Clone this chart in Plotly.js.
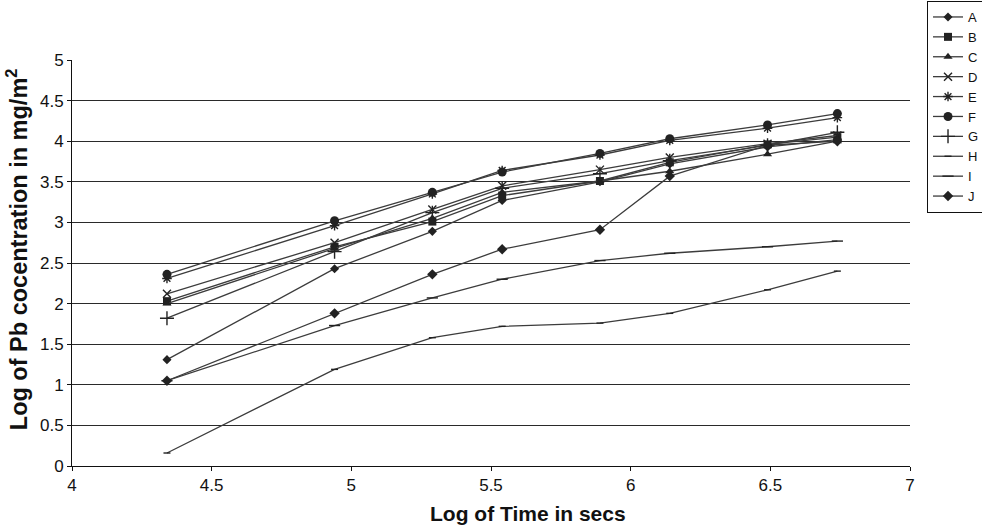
<!DOCTYPE html>
<html>
<head>
<meta charset="utf-8">
<script src="https://cdn.plot.ly/plotly-3.0.1.min.js"></script>
<style>
  html, body { margin: 0; padding: 0; background: #fff; }
  #chart { width: 982px; height: 532px; }
</style>
</head>
<body>
<div id="chart"></div>
<script>
// Log of elapsed time (s) at each sampling point
const logTime = [4.34, 4.94, 5.29, 5.54, 5.89, 6.14, 6.49, 6.74];

// Log of Pb concentration (mg/m²) for each sample series
const seriesNames = ["A", "B", "C", "D", "E", "F", "G", "H", "I", "J"];
const seriesA = [1.31, 2.43, 2.89, 3.27, 3.50, 3.72, 3.93, 4.02];
const seriesB = [2.03, 2.70, 3.01, 3.33, 3.51, 3.74, 3.96, 4.05];
const seriesC = [2.00, 2.68, 3.05, 3.37, 3.51, 3.63, 3.84, 4.00];
const seriesD = [2.12, 2.75, 3.16, 3.45, 3.65, 3.80, 3.97, 4.07];
const seriesE = [2.31, 2.96, 3.35, 3.64, 3.83, 4.01, 4.16, 4.29];
const seriesF = [2.36, 3.02, 3.37, 3.62, 3.85, 4.03, 4.20, 4.34];
const seriesG = [1.82, 2.64, 3.12, 3.42, 3.60, 3.76, 3.95, 4.11];
const seriesH = [0.16, 1.19, 1.58, 1.72, 1.76, 1.88, 2.17, 2.40];
const seriesI = [1.05, 1.73, 2.07, 2.30, 2.53, 2.62, 2.70, 2.77];
const seriesJ = [1.05, 1.88, 2.36, 2.67, 2.91, 3.57, 3.95, 4.00];

const yTickVals = [0, 0.5, 1, 1.5, 2, 2.5, 3, 3.5, 4, 4.5, 5];
const xTickVals = [4, 4.5, 5, 5.5, 6, 6.5, 7];

const seriesValues = [seriesA, seriesB, seriesC, seriesD, seriesE,
                      seriesF, seriesG, seriesH, seriesI, seriesJ];

// marker style per series
const markerStyles = [
  { symbol: "diamond", size: 7 },
  { symbol: "square", size: 8 },
  { symbol: "triangle-up", size: 8 },
  { symbol: "x-thin-open", size: 8 },
  { symbol: "asterisk-open", size: 8 },
  { symbol: "circle", size: 9 },
  { symbol: "cross-thin-open", size: 10 },
  { symbol: "line-ew-open", size: 5 },
  { symbol: "line-ew-open", size: 8 },
  { symbol: "diamond", size: 8 }
];

const lineColor = "#3c3c3c";
const markColor = "#222";

const traces = seriesNames.map((name, i) => ({
  type: "scatter",
  mode: "lines+markers",
  name: name,
  x: logTime,
  y: seriesValues[i],
  line: { color: lineColor, width: 1.3 },
  marker: {
    symbol: markerStyles[i].symbol,
    size: markerStyles[i].size,
    color: markColor,
    line: { color: markColor, width: markerStyles[i].symbol.indexOf("open") >= 0 ? 1.4 : 0 }
  }
}));

const fontFamily = "Liberation Sans, Arial, sans-serif";

const layout = {
  width: 982,
  height: 532,
  margin: { l: 72, r: 72, t: 60, b: 66, autoexpand: false },
  paper_bgcolor: "#fff",
  plot_bgcolor: "#fff",
  font: { family: fontFamily, size: 17, color: "#111" },
  showlegend: true,
  legend: {
    x: 1.0203, xanchor: "left",
    y: 1.1453, yanchor: "top",
    bgcolor: "#fff",
    bordercolor: "#111",
    borderwidth: 1,
    font: { family: fontFamily, size: 13, color: "#111" },
    tracegroupgap: 0
  },
  xaxis: {
    range: [4, 7],
    tickvals: xTickVals,
    ticktext: xTickVals.map(String),
    showgrid: false,
    zeroline: false,
    showline: true,
    linecolor: "#111",
    linewidth: 1,
    ticks: "outside",
    ticklen: 4,
    tickcolor: "#111",
    tickfont: { family: fontFamily, size: 17, color: "#111" },
    fixedrange: true
  },
  yaxis: {
    range: [0, 5],
    tickvals: yTickVals,
    ticktext: yTickVals.map(String),
    showgrid: true,
    gridcolor: "#2a2a2a",
    gridwidth: 1,
    zeroline: false,
    showline: true,
    linecolor: "#111",
    linewidth: 1,
    ticks: "outside",
    ticklen: 4,
    tickcolor: "#111",
    tickfont: { family: fontFamily, size: 17, color: "#111" },
    fixedrange: true
  },
  annotations: [
    {
      text: "<b>Log of Time in secs</b>",
      xref: "paper", yref: "paper",
      x: 0.544, y: -0.1158,
      xanchor: "center", yanchor: "middle",
      showarrow: false,
      font: { family: fontFamily, size: 21, color: "#111" }
    },
    {
      text: "<b>Log of Pb cocentration in mg/m<sup>2</sup></b>",
      xref: "paper", yref: "paper",
      x: -0.0656, y: 0.534,
      xanchor: "center", yanchor: "middle",
      textangle: -90,
      showarrow: false,
      font: { family: fontFamily, size: 23.5, color: "#111" }
    }
  ]
};

Plotly.newPlot("chart", traces, layout, { displayModeBar: false, staticPlot: true });
</script>
</body>
</html>
